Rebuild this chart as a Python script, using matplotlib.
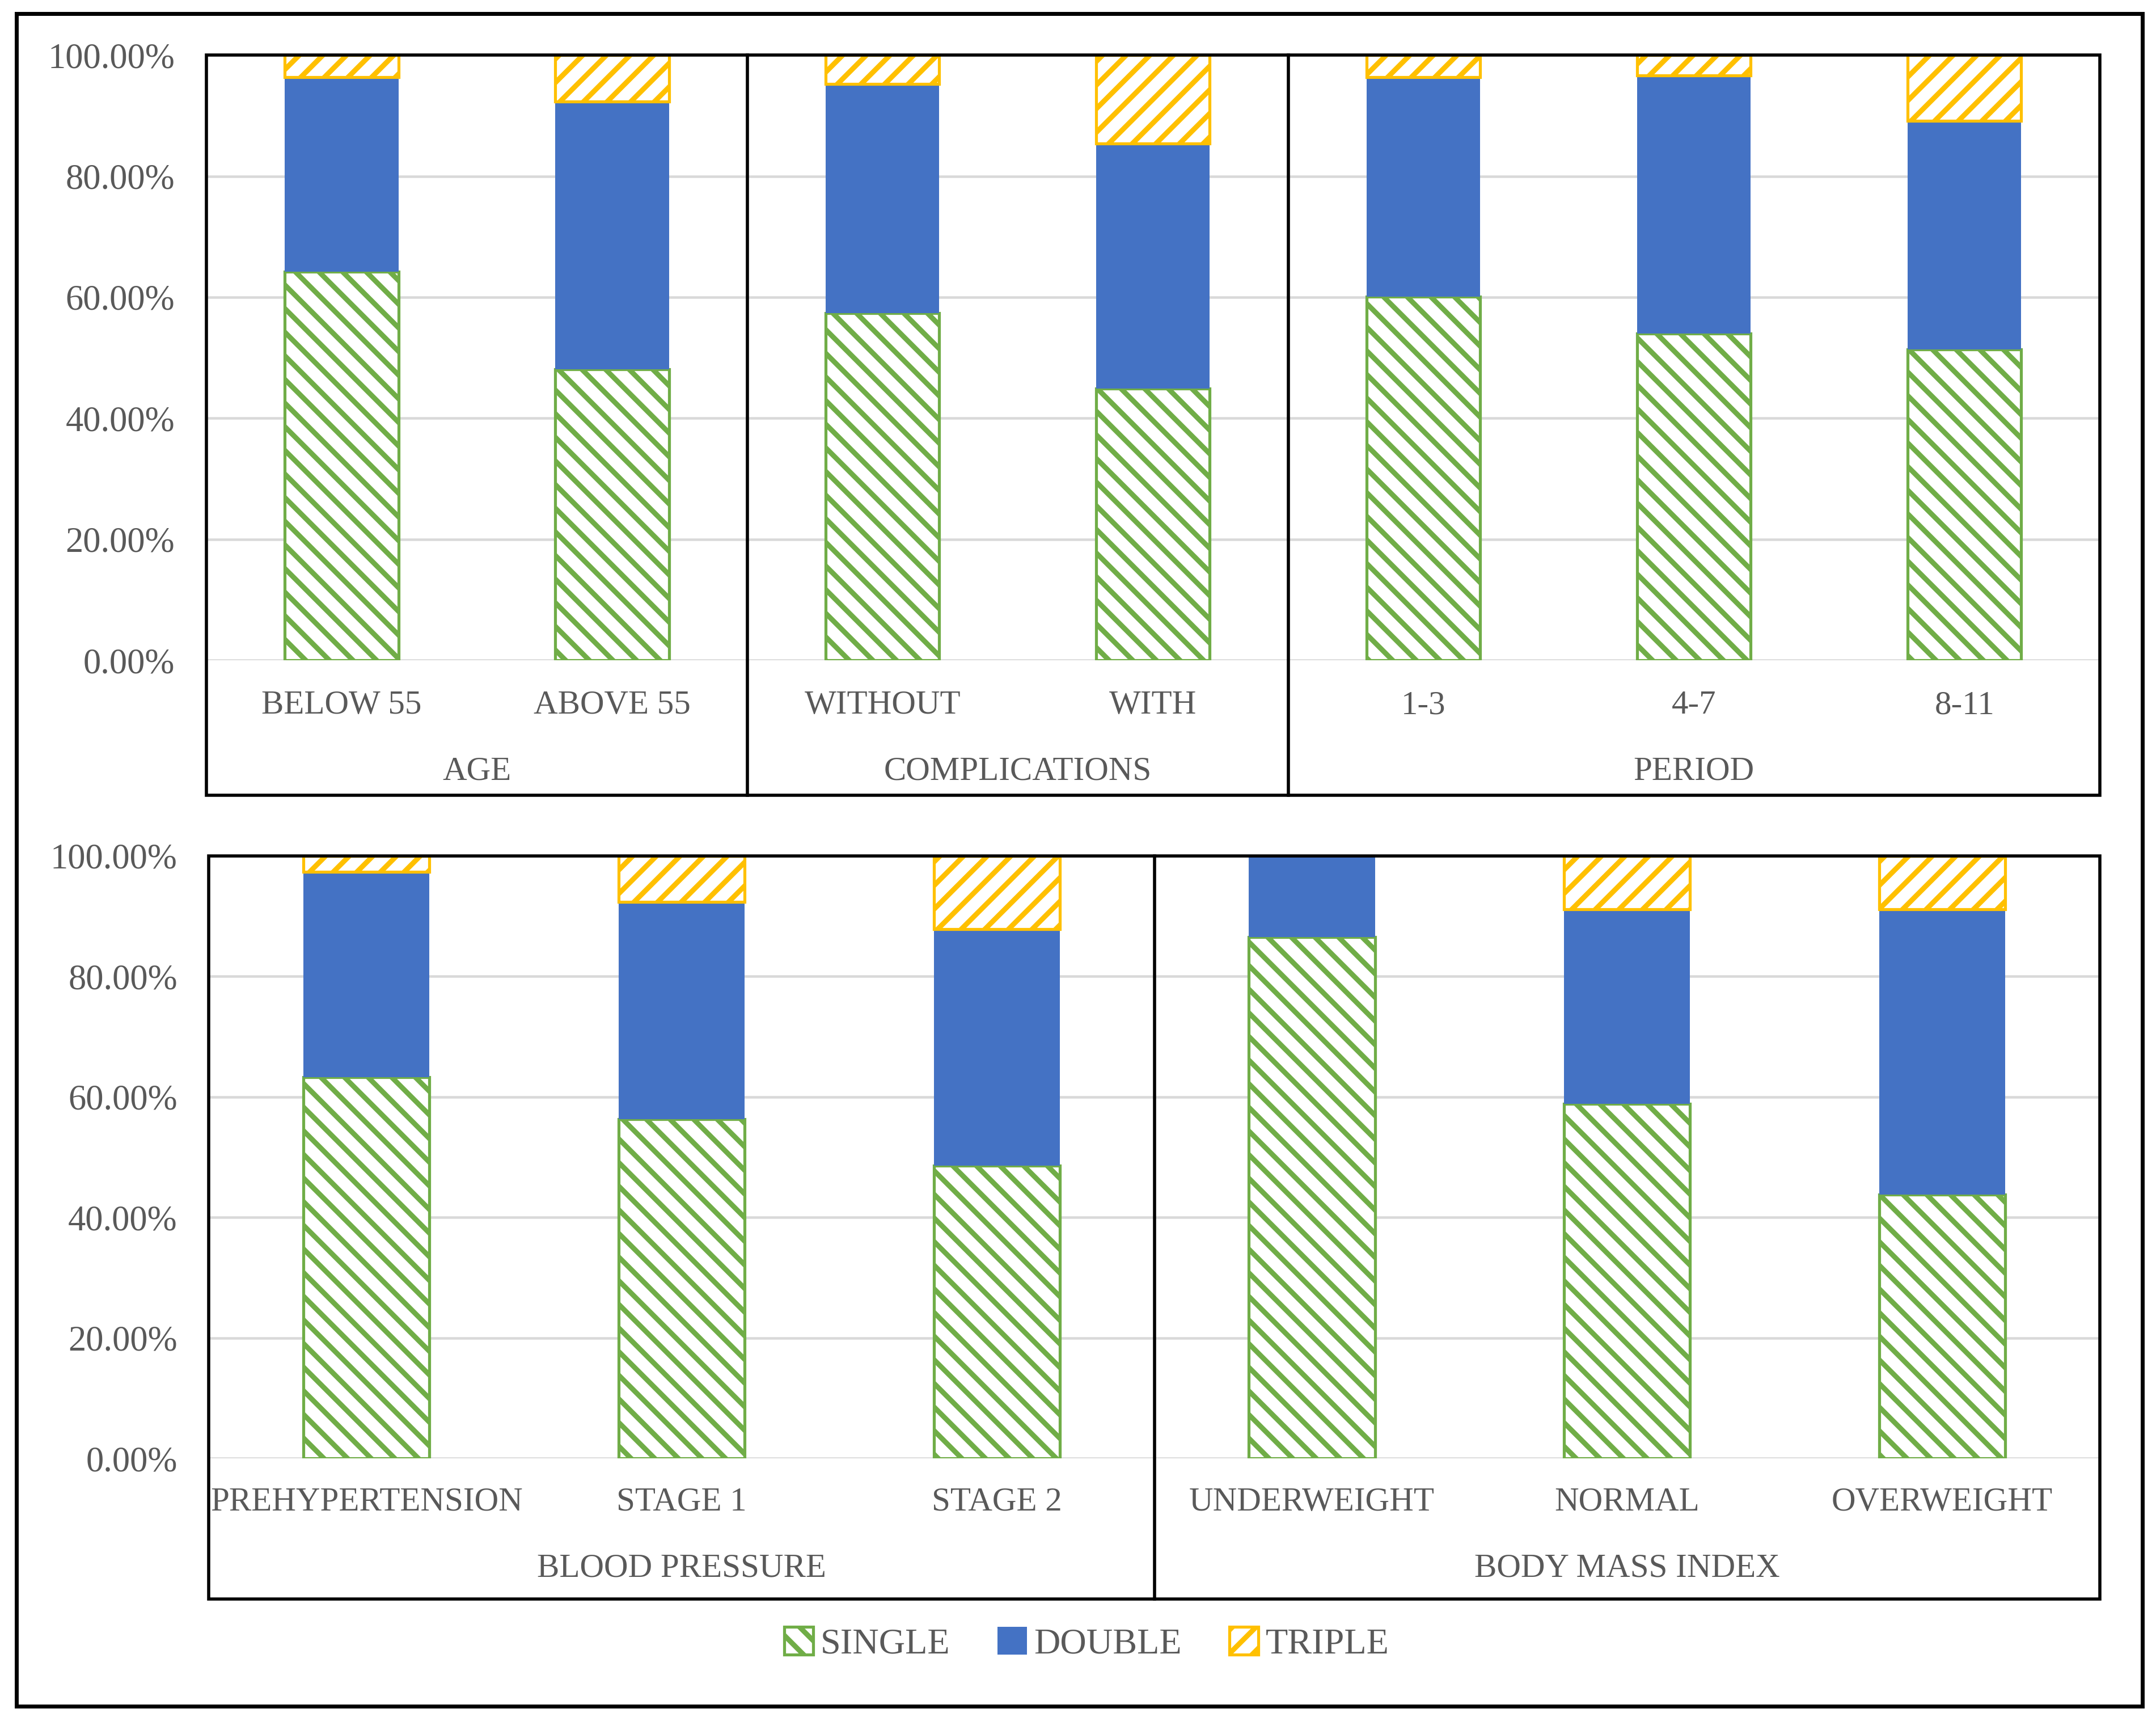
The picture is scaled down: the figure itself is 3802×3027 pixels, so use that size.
import numpy as np
import matplotlib
matplotlib.use('Agg')
import matplotlib.pyplot as plt
import matplotlib.transforms as mtransforms
from matplotlib.patches import Rectangle, Patch

# upper chart
top_cats = ['BELOW 55', 'ABOVE 55', 'WITHOUT', 'WITH', '1-3', '4-7', '8-11']
top_groups = ['AGE', 'COMPLICATIONS', 'PERIOD']
top_sizes = [2, 2, 3]
top_single = [64.2, 48.1, 57.4, 44.9, 60.1, 54.0, 51.4]
top_double = [32.2, 44.2, 37.8, 40.5, 36.3, 42.6, 37.7]
top_triple = [3.6, 7.7, 4.8, 14.6, 3.6, 3.4, 10.9]

# lower chart
bot_cats = ['PREHYPERTENSION', 'STAGE 1', 'STAGE 2', 'UNDERWEIGHT', 'NORMAL', 'OVERWEIGHT']
bot_groups = ['BLOOD PRESSURE', 'BODY MASS INDEX']
bot_sizes = [3, 3]
bot_single = [63.3, 56.3, 48.6, 86.5, 58.8, 43.8]
bot_double = [34.0, 36.0, 39.2, 13.5, 32.3, 47.3]
bot_triple = [2.7, 7.7, 12.2, 0.0, 8.9, 8.9]

yticks = [0, 20, 40, 60, 80, 100]

GREEN = '#70AD47'
BLUE = '#4472C4'
GOLD = '#FFC000'
TXT = '#595959'

plt.rcParams['font.family'] = ['Liberation Serif', 'DejaVu Serif']
plt.rcParams['hatch.linewidth'] = 2.6


def draw_panel(ax, cats, groups, sizes, single, double, triple, width, box_h, lab_y, grp_y):
    x = np.arange(len(cats))
    single = np.array(single)
    double = np.array(double)
    triple = np.array(triple)
    ax.bar(x, single, width, facecolor='white', edgecolor=GREEN, hatch='\\\\', lw=1.5)
    ax.bar(x, double, width, bottom=single, color=BLUE, lw=0)
    keep = triple > 0
    ax.bar(x[keep], triple[keep], width, bottom=(single + double)[keep],
           facecolor='white', edgecolor=GOLD, hatch='//', lw=1.5)
    ax.set_xlim(-0.5, len(cats) - 0.5)
    ax.set_ylim(0, 100)
    ax.set_yticks(yticks)
    ax.set_yticklabels(['%.2f%%' % v for v in yticks])
    ax.set_xticks([])
    ax.tick_params(axis='y', length=0, pad=16, labelsize=18, labelcolor=TXT)
    ax.yaxis.grid(True, color='#D9D9D9', lw=1.3)
    ax.set_axisbelow(True)
    for s in ax.spines.values():
        s.set_visible(False)
    # frame around the plot and the label boxes
    ax.add_patch(Rectangle((0, box_h), 1, 1 - box_h, transform=ax.transAxes,
                           fill=False, ec='black', lw=1.6, clip_on=False, zorder=5))
    trans = mtransforms.blended_transform_factory(ax.transData, ax.transAxes)
    for i, c in enumerate(cats):
        ax.text(i, lab_y, c, transform=trans, ha='center', va='center',
                fontsize=17, color=TXT)
    start = 0
    for g, n in zip(groups, sizes):
        ax.text(start + (n - 1) / 2, grp_y, g, transform=trans, ha='center',
                va='center', fontsize=17, color=TXT)
        if start > 0:
            ax.plot([start - 0.5, start - 0.5], [box_h, 1], transform=trans,
                    color='black', lw=1.6, clip_on=False, zorder=5)
        start += n


fig = plt.figure(figsize=(15.208, 12.108), dpi=250)

ax1 = fig.add_axes([0.0957, 0.6154, 0.9739 - 0.0957, 0.9679 - 0.6154])
draw_panel(ax1, top_cats, top_groups, top_sizes, top_single, top_double, top_triple,
           0.42, -0.2227, -0.075, -0.184)

ax2 = fig.add_axes([0.0969, 0.1506, 0.9739 - 0.0969, 0.5016 - 0.1506])
draw_panel(ax2, bot_cats, bot_groups, bot_sizes, bot_single, bot_double, bot_triple,
           0.40, -0.233, -0.073, -0.183)

handles = [Patch(facecolor='white', edgecolor=GREEN, hatch='\\\\', lw=1.5, label='SINGLE'),
           Patch(facecolor=BLUE, lw=0, label='DOUBLE'),
           Patch(facecolor='white', edgecolor=GOLD, hatch='//', lw=1.5, label='TRIPLE')]
leg = fig.legend(handles=handles, loc='center', bbox_to_anchor=(0.504, 0.0425), ncol=3,
                 frameon=False, fontsize=18.5, handlelength=0.8, handleheight=0.8,
                 handletextpad=0.2, columnspacing=1.3)
for t in leg.get_texts():
    t.set_color(TXT)

fig.add_artist(Rectangle((0.0077, 0.0064), 0.9859, 0.9856, transform=fig.transFigure,
                         fill=False, ec='black', lw=2.0))

fig.savefig('out.png', dpi=250)
